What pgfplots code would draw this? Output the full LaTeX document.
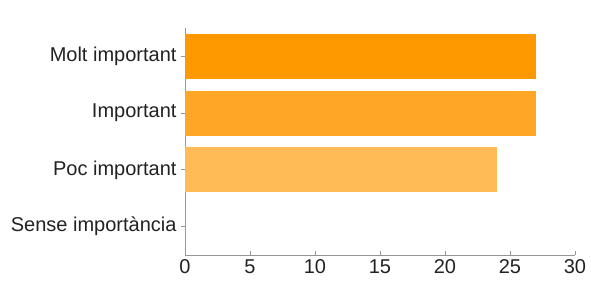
\documentclass[border=0pt]{standalone}
\usepackage{pgfplots}
\pgfplotsset{compat=1.18}
\usepackage{fontspec}
\setmainfont{Liberation Sans}
\definecolor{barA}{RGB}{255,153,0}
\definecolor{barB}{RGB}{255,166,38}
\definecolor{barC}{RGB}{255,187,85}
\definecolor{axgray}{RGB}{150,150,150}
\definecolor{txt}{RGB}{34,34,34}
\begin{document}
\begin{tikzpicture}
\begin{axis}[
  scale only axis,
  width=390bp, height=227bp,
  xmin=0, xmax=30,
  ymin=-0.5, ymax=3.5,
  xbar, bar width=0.79, bar shift=0pt,
  xtick={0,5,10,15,20,25,30},
  ytick={0,1,2,3},
  yticklabels={Sense importància,Poc important,Important,Molt important},
  axis x line*=bottom, axis y line*=left,
  axis line style={axgray, line width=0.8bp},
  every tick/.style={axgray, line width=0.8bp},
  major tick length=4bp,
  xtick align=inside, ytick align=outside,
  tick label style={font=\fontsize{20bp}{23bp}\selectfont, text=txt},
  /pgf/number format/assume math mode=true,
  yticklabel style={xshift=-1bp},
  xticklabel style={yshift=-1bp},
  clip=false,
]
\addplot[fill=barA, draw=none] coordinates {(27,3)};
\addplot[fill=barB, draw=none] coordinates {(27,2)};
\addplot[fill=barC, draw=none] coordinates {(24,1)};
\addplot[fill=barC, draw=none] coordinates {(0,0)};
\end{axis}
\path ([xshift=-185bp,yshift=-27bp]current axis.south west) rectangle ++(591bp,282bp);
\end{tikzpicture}
\end{document}
